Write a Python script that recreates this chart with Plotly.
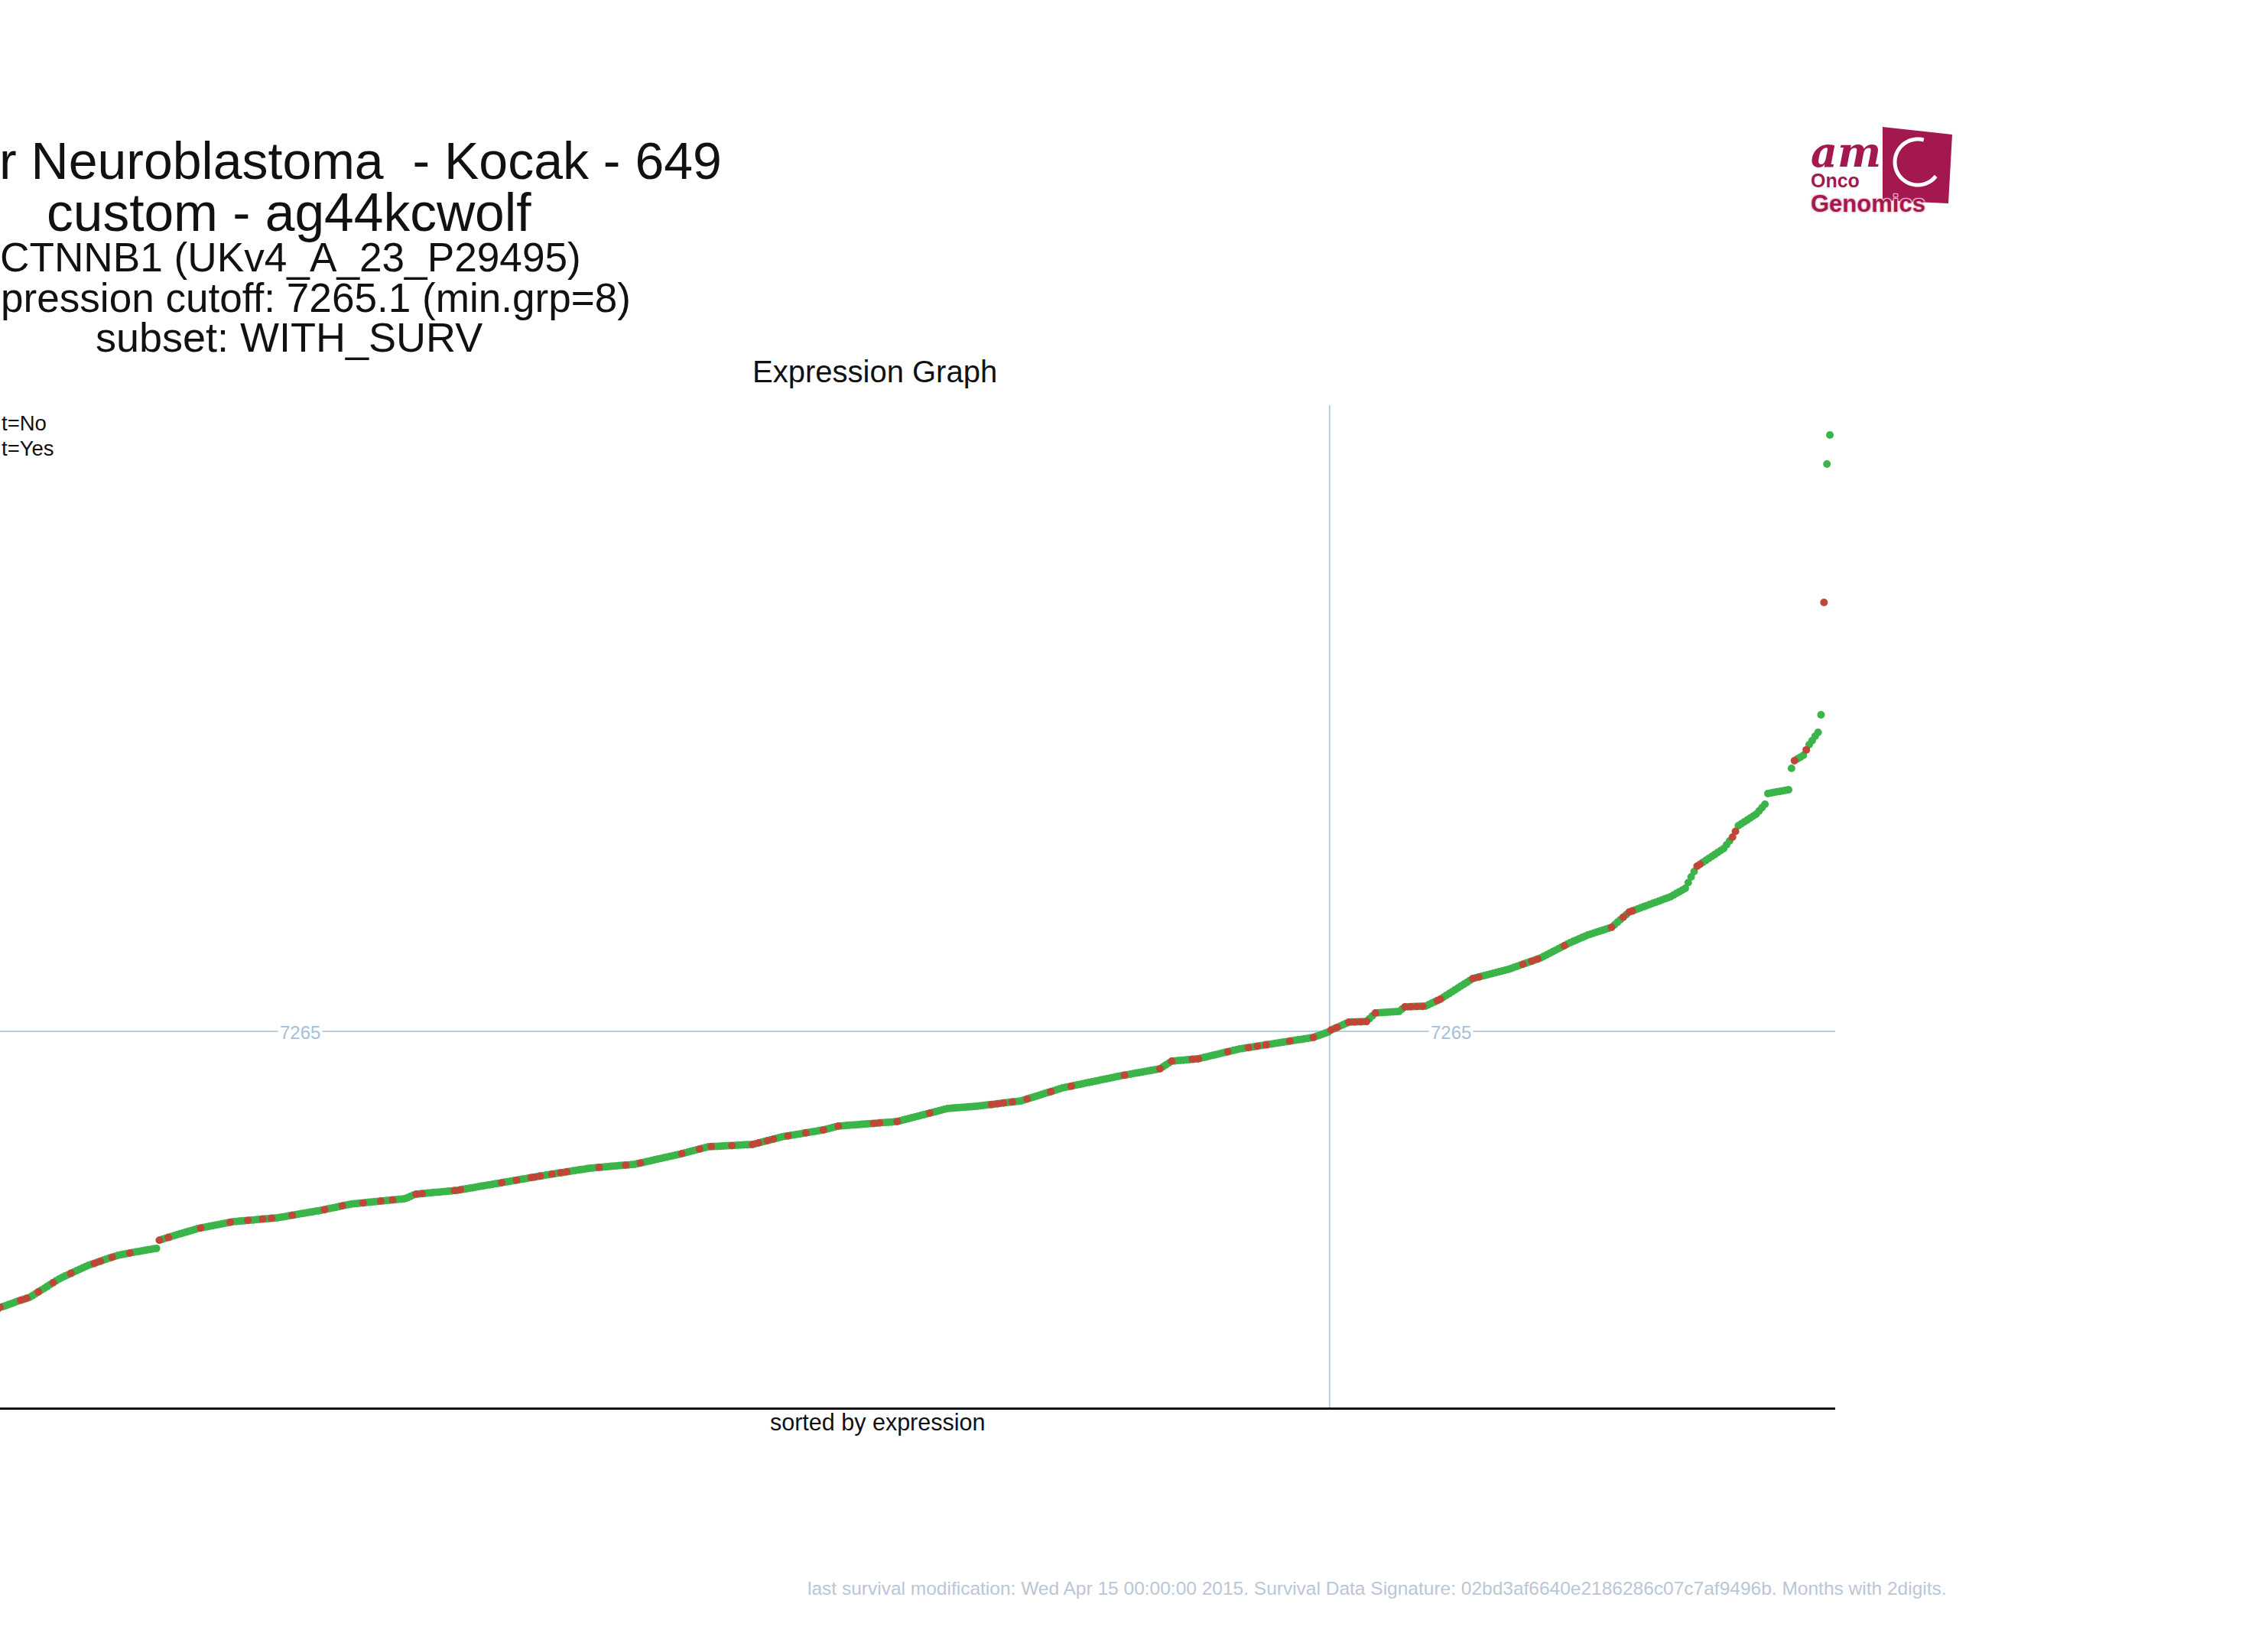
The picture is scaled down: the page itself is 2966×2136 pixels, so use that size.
import numpy as np
import plotly.graph_objects as go

# ---------------- data ----------------
expression = [
    520, 760, 905, 1010, 1090, 1158, 1215, 1266, 1310, 1350,
    1388, 1422, 1455, 1486, 1515, 1543, 1570, 1596, 1621, 1645,
    1669, 1692, 1715, 1738, 1761, 1790, 1830, 1880, 1934,
    1950, 1968, 1990, 2008, 2030, 2052, 2070, 2088, 2108, 2126,
    2160, 2195, 2232, 2268, 2300, 2338, 2375, 2410, 2446, 2481,
    2510, 2538, 2563, 2590, 2616, 2643, 2668, 2695, 2720, 2746,
    2766, 2785, 2805, 2825, 2846, 2866, 2885, 2902, 2920, 2938,
    2950, 2961, 2972, 2983, 2994, 3004, 3014, 3024, 3034, 3044, 3054, 3063, 3073,
    3230, 3248, 3266, 3284, 3302, 3320, 3337, 3354, 3370, 3387, 3404, 3420, 3438, 3455,
    3466, 3477, 3488, 3499, 3510, 3522, 3533, 3544, 3555, 3566, 3577, 3588,
    3593, 3598, 3603, 3608, 3613, 3618, 3623, 3628, 3633, 3638, 3643, 3648, 3653, 3657, 3662,
    3672, 3682, 3692, 3702, 3712, 3722, 3732, 3742, 3752, 3761, 3771, 3781, 3791, 3800, 3810,
    3822, 3834, 3846, 3858, 3870, 3882, 3894, 3906, 3917, 3928,
    3934, 3940, 3946, 3951, 3957, 3963, 3969, 3974, 3980, 3986, 3991, 3997, 4003, 4008, 4014, 4020, 4025, 4031,
    4050, 4075, 4100, 4120,
    4125, 4131, 4136, 4141, 4147, 4152, 4157, 4162, 4168, 4173, 4178, 4183, 4189, 4194,
    4204, 4214, 4224, 4233, 4243, 4253, 4263, 4273, 4282, 4292, 4302, 4312, 4321, 4331, 4341,
    4351, 4361, 4371, 4380, 4390, 4400, 4410, 4420, 4430, 4440, 4450, 4460, 4469, 4479, 4489,
    4498, 4507, 4516, 4525, 4534, 4542, 4551, 4560, 4569, 4578, 4587, 4596, 4604, 4613, 4622,
    4627, 4632, 4637, 4642, 4647, 4652, 4657, 4662, 4667, 4672, 4677, 4681, 4686, 4691, 4696,
    4709, 4722, 4734, 4747, 4760, 4773, 4786, 4798, 4811, 4824, 4837, 4850, 4862, 4875, 4888,
    4903, 4918, 4932, 4947, 4962, 4976, 4991, 5006, 5020, 5035,
    5038, 5041, 5044, 5047, 5050, 5053, 5056, 5059, 5062, 5065, 5068, 5071, 5074, 5077, 5080,
    5095, 5110, 5124, 5139, 5154, 5168, 5183, 5198, 5212, 5227,
    5237, 5246, 5256, 5265, 5275, 5284, 5294, 5303, 5313, 5322, 5332, 5341, 5351, 5360,
    5375, 5390, 5405, 5420, 5434,
    5438, 5443, 5447, 5452, 5456, 5461, 5465, 5469, 5474, 5478,
    5482, 5487, 5491, 5496, 5500, 5504, 5509, 5513, 5518, 5522,
    5537, 5552, 5567, 5582, 5596, 5611, 5626,
    5641, 5656, 5671, 5685, 5700, 5715, 5730, 5745, 5759, 5774,
    5778, 5783, 5787, 5792, 5796, 5800, 5805, 5809, 5814, 5818,
    5825, 5832, 5839, 5846, 5852, 5859, 5866, 5873, 5880, 5887, 5894, 5901, 5907, 5914, 5921,
    5939, 5957, 5975, 5993, 6011, 6029, 6047, 6065, 6082, 6100, 6118, 6136, 6154, 6172,
    6184, 6196, 6207, 6219, 6231, 6243, 6255, 6267, 6278, 6290, 6302, 6314, 6326, 6337, 6349, 6361, 6373, 6385, 6396, 6408,
    6418, 6428, 6439, 6449, 6459, 6469, 6480, 6490, 6500, 6510, 6520, 6531, 6541,
    6578, 6615, 6652, 6689,
    6694, 6699, 6704, 6709, 6714, 6719, 6724, 6729, 6734,
    6748, 6761, 6775, 6789, 6802, 6816, 6830, 6843, 6857, 6870, 6884, 6898, 6911, 6925,
    6934, 6943, 6952, 6960, 6969, 6978, 6987, 6996, 7005, 7014, 7022, 7031, 7040, 7049, 7058,
    7067, 7076, 7085, 7094, 7103, 7111, 7120, 7129, 7138, 7147,
    7168, 7189, 7209, 7230, 7250,
    7290, 7315, 7340, 7365, 7390, 7416, 7442,
    7444, 7446, 7448, 7450, 7452, 7455,
    7510, 7565, 7619,
    7623, 7627, 7630, 7634, 7638, 7641, 7645, 7649,
    7693, 7737,
    7739, 7741, 7743, 7745, 7747, 7749, 7752,
    7779, 7806, 7832, 7859, 7885,
    7921, 7958, 7994, 8030, 8066, 8103, 8139, 8175, 8211, 8248, 8284,
    8299, 8314, 8328, 8343, 8358, 8373, 8387, 8402, 8417, 8432, 8446, 8461,
    8481, 8501, 8521, 8541, 8561, 8581, 8601, 8621, 8641, 8662, 8682,
    8712, 8741, 8771, 8800, 8830, 8860, 8889, 8919, 8948, 8978,
    9002, 9027, 9051, 9076, 9100, 9125,
    9143, 9162, 9180, 9199, 9217, 9236, 9254, 9273,
    9322, 9371, 9420, 9470, 9519, 9568,
    9589, 9610, 9631, 9652, 9674, 9695, 9716, 9737, 9758, 9779, 9800, 9822, 9843, 9864,
    9896, 9929, 9961, 9994, 10026,
    10137, 10248, 10351, 10454,
    10492, 10530, 10567, 10605, 10643, 10681, 10719, 10756, 10794,
    10868, 10941, 11015, 11126, 11237,
    11274, 11311, 11347, 11384, 11421, 11458,
    11522, 11586, 11650,
    11857, 11868, 11878, 11889, 11899, 11910, 11920, 11931,
    12344, 12492, 12530, 12560, 12595, 12700, 12802, 12880, 12964, 13038, 13378, 15549, 18221, 18782,
]

# ranks (1-based, sorted by expression) of samples with event = Yes
event_yes_ranks = [
    3, 9, 14, 20, 25, 29, 36, 38, 42, 47, 53, 61, 63, 67, 73, 83, 86, 97, 107, 113,
    118, 121, 128, 139, 145, 152, 158, 162, 170, 172, 183, 185, 199, 204, 209, 210,
    212, 216, 219, 221, 232, 241, 246, 260, 266, 270, 277, 284, 286, 289, 291, 296,
    302, 308, 313, 325, 327, 333, 344, 365, 367, 369, 372, 377, 385, 392, 410, 422,
    426, 433, 435, 445, 452, 455, 458, 466, 474, 480, 482, 486, 488, 490, 492, 495,
    505, 507, 509, 511, 516, 517, 528, 530, 545, 548, 550, 559, 575, 579, 581, 582,
    604, 605, 616, 617, 637, 641, 647,
]

cutoff = 7265.1
cutoff_label = "7265"
n_below_cutoff = 479

title_lines = [
    "r Neuroblastoma  - Kocak - 649",
    "custom - ag44kcwolf",
    "CTNNB1 (UKv4_A_23_P29495)",
    "pression cutoff: 7265.1 (min.grp=8)",
    "subset: WITH_SURV",
]
legend_labels = ["t=No", "t=Yes"]
footer = ("last survival modification: Wed Apr 15 00:00:00 2015. Survival Data Signature: "
          "02bd3af6640e2186286c07c7af9496b. Months with 2digits.")

# ---------------- layout helpers ----------------
W, H = 2966, 2136
PL, PR, PT, PB = 0, 2400, 530, 1841


def px(x):
    return (x - PL) / (PR - PL)


def py(y):
    return (PB - y) / (PB - PT)


FONT = "Liberation Sans, Arial, Helvetica, sans-serif"
GREEN = "#3BB54A"
RED = "#C0463A"
REFC = "#B6CDE1"

ranks = list(range(1, len(expression) + 1))
yes = set(event_yes_ranks)
gx = [r for r in ranks if r not in yes]
gy = [expression[r - 1] for r in gx]
rx = [r for r in ranks if r in yes]
ry = [expression[r - 1] for r in rx]

fig = go.Figure()
fig.add_trace(go.Scatter(x=gx, y=gy, mode="markers", name="No",
                         marker=dict(color=GREEN, size=10, line=dict(width=0))))
fig.add_trace(go.Scatter(x=rx, y=ry, mode="markers", name="Yes",
                         marker=dict(color=RED, size=10, line=dict(width=0))))

shapes = []
# cutoff reference lines
shapes.append(dict(type="line", xref="paper", yref="y", x0=0, x1=1, y0=cutoff, y1=cutoff,
                   line=dict(color=REFC, width=2), layer="below"))
shapes.append(dict(type="line", xref="x", yref="paper", x0=n_below_cutoff + 0.5,
                   x1=n_below_cutoff + 0.5, y0=0, y1=1,
                   line=dict(color=REFC, width=2), layer="below"))

# logo
LOGO = "#A3194F"
poly = [(2462, 166), (2553, 176), (2548, 266), (2462, 262)]
path = "M " + " L ".join(f"{px(a):.5f},{py(b):.5f}" for a, b in poly) + " Z"
shapes.append(dict(type="path", xref="paper", yref="paper", path=path,
                   fillcolor=LOGO, line=dict(width=0)))
cx, cy, rr = 2508, 212, 30
th = np.radians(np.linspace(75, 322, 40))
arc = [(cx + rr * np.cos(t), cy - rr * np.sin(t)) for t in th]
apath = "M " + " L ".join(f"{px(a):.5f},{py(b):.5f}" for a, b in arc)
shapes.append(dict(type="path", xref="paper", yref="paper", path=apath,
                   line=dict(color="white", width=5)))

ann = []


def text(t, x, y, size, xanchor="center", color="#111111", family=FONT, **kw):
    font = dict(size=size, color=color, family=family)
    font.update(kw.pop("font_extra", {}))
    ann.append(dict(text=t, x=px(x), y=py(y), xref="paper", yref="paper",
                    xanchor=xanchor, yanchor="middle", showarrow=False,
                    font=font, **kw))


text(title_lines[0].replace("  ", " &nbsp;"), 946, 210, 68, xanchor="right")
text(title_lines[1], 378, 278, 69.5)
text(title_lines[2], 762, 337, 53.2, xanchor="right")
text(title_lines[3], 827, 390, 53.1, xanchor="right")
text(title_lines[4], 378, 441, 54)
text("Expression Graph", 1144, 486, 40)
text(legend_labels[0], 0, 553, 27.5, xanchor="left")
text(legend_labels[1], 0, 586, 27.5, xanchor="left")
text("sorted by expression", 1147, 1860, 30.5)
text(cutoff_label, 392, 1350, 24, color="#A6C0D8", bgcolor="white", borderpad=2)
text(cutoff_label, 1897, 1350, 24, color="#A6C0D8", bgcolor="white", borderpad=2)
text(footer, 1801, 2077, 24.5, color="#BAC6D6")
# logo texts
text("<b><i>am</i></b>", 2414, 199, 54, color=LOGO, family="DejaVu Serif, serif")
text("<b>Onco</b>", 2366, 236, 25, xanchor="left", color=LOGO)
text("<b>Genomics</b>", 2366, 266, 31, xanchor="left", color=LOGO,
     font_extra=dict(shadow="1px 1px 1px #F3C9D6, -1px -1px 1px #F3C9D6, 1px -1px 1px #F3C9D6, -1px 1px 1px #F3C9D6"))

fig.update_layout(
    width=W, height=H,
    margin=dict(l=PL, r=W - PR, t=PT, b=H - PB, pad=0),
    paper_bgcolor="white", plot_bgcolor="white",
    showlegend=False,
    shapes=shapes, annotations=ann,
    xaxis=dict(range=[29.0, 650.8], showgrid=False, zeroline=False, showticklabels=False,
               ticks="", showline=True, linecolor="#111111", linewidth=3),
    yaxis=dict(range=[0, 19358], showgrid=False, zeroline=False, showticklabels=False,
               ticks="", showline=False),
    font=dict(family=FONT),
)

fig.write_html("out.html", config={"displayModeBar": False},
               post_script="document.body.style.margin='0';")
